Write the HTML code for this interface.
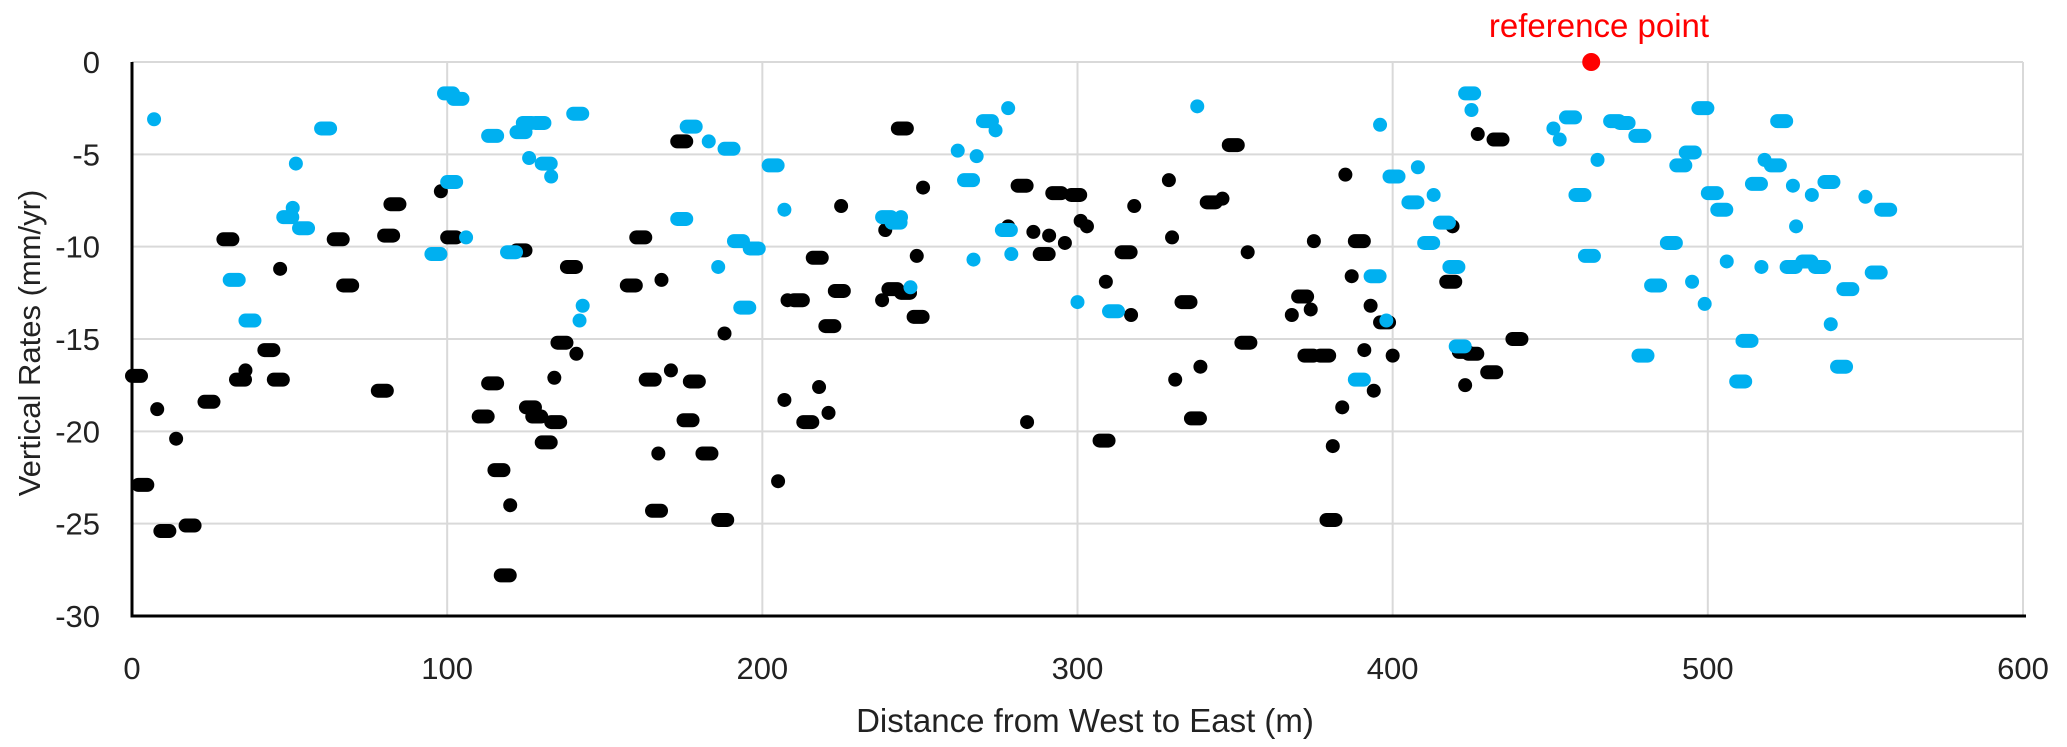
<!DOCTYPE html>
<html><head><meta charset="utf-8"><style>
html,body{margin:0;padding:0;background:#fff;}
svg text{font-family:"Liberation Sans",sans-serif;}
</style></head><body>
<svg id="chart" width="2067" height="742" viewBox="0 0 2067 742" xmlns="http://www.w3.org/2000/svg">
<g id="grid"></g>
<g id="marks"></g>
<g id="axes"></g>
<text transform="translate(40,343) rotate(-90)" text-anchor="middle" font-size="31" fill="#222">Vertical Rates (mm/yr)</text>
<text x="1085" y="732" text-anchor="middle" font-size="33" fill="#222">Distance from West to East (m)</text>
<text x="1599" y="37" text-anchor="middle" font-size="33" fill="#ff0000">reference point</text>
</svg>
<script>
const xTicks=[0,100,200,300,400,500,600];
const yTicks=[0,-5,-10,-15,-20,-25,-30];
const blackX=[0,2,8,9,14,17,23,29,33,36,42,45,47,64,67,78,80,82,98,100,110,113,115,117,120,122,125,127,130,133,134,135,138,141,157,160,163,165,167,168,171,173,175,177,181,186,188,205,207,208,210,213,216,218,220,221,223,225,238,239,240,243,244,249,248,251,278,281,284,286,288,291,292,296,298,301,303,307,309,314,317,318,329,330,331,333,336,339,341,346,348,352,354,368,370,372,375,374,377,379,381,384,385,387,388,391,393,394,396,400,417,419,421,423,424,427,430,432,438];
const blackY=[-17,-22.9,-18.8,-25.4,-20.4,-25.1,-18.4,-9.6,-17.2,-16.7,-15.6,-17.2,-11.2,-9.6,-12.1,-17.8,-9.4,-7.7,-7.0,-9.5,-19.2,-17.4,-22.1,-27.8,-24,-10.2,-18.7,-19.2,-20.6,-19.5,-17.1,-15.2,-11.1,-15.8,-12.1,-9.5,-17.2,-24.3,-21.2,-11.8,-16.7,-4.3,-19.4,-17.3,-21.2,-24.8,-14.7,-22.7,-18.3,-12.9,-12.9,-19.5,-10.6,-17.6,-14.3,-19,-12.4,-7.8,-12.9,-9.1,-12.3,-3.6,-12.5,-10.5,-13.8,-6.8,-8.9,-6.7,-19.5,-9.2,-10.4,-9.4,-7.1,-9.8,-7.2,-8.6,-8.9,-20.5,-11.9,-10.3,-13.7,-7.8,-6.4,-9.5,-17.2,-13,-19.3,-16.5,-7.6,-7.4,-4.5,-15.2,-10.3,-13.7,-12.7,-15.9,-9.7,-13.4,-15.9,-24.8,-20.8,-18.7,-6.1,-11.6,-9.7,-15.6,-13.2,-17.8,-14.1,-15.9,-11.9,-8.9,-15.7,-17.5,-15.8,-3.9,-16.8,-4.2,-15];
const blackD=[1,1,0,1,0,1,1,1,1,0,1,1,0,1,1,1,1,1,0,1,1,1,1,1,0,1,1,1,1,1,0,1,1,0,1,1,1,1,0,0,0,1,1,1,1,1,0,0,0,0,1,1,1,0,1,0,1,0,0,0,1,1,1,0,1,0,0,1,0,0,1,0,1,0,1,0,0,1,0,1,0,0,0,0,0,1,1,0,1,0,1,1,0,0,1,1,0,0,1,1,0,0,0,0,1,0,0,0,1,0,1,0,1,0,1,0,1,1,1];
const blueX=[7,31,36,48,51,52,53,60,95,99,100,102,106,113,119,122,124,126,128,130,133,140,142,143,173,176,183,186,188,191,193,196,202,207,238,241,244,247,262,264,267,268,270,274,276,278,279,300,310,338,388,393,396,398,399,405,408,410,413,415,418,420,423,425,451,453,455,458,461,465,469,472,477,478,482,487,490,493,495,497,499,500,503,506,509,511,514,517,518,520,522,525,527,528,530,533,534,537,539,541,543,550,552,555];
const blueY=[-3.1,-11.8,-14,-8.4,-7.9,-5.5,-9,-3.6,-10.4,-1.7,-6.5,-2,-9.5,-4,-10.3,-3.8,-3.3,-5.2,-3.3,-5.5,-6.2,-2.8,-14,-13.2,-8.5,-3.5,-4.3,-11.1,-4.7,-9.7,-13.3,-10.1,-5.6,-8,-8.4,-8.7,-8.4,-12.2,-4.8,-6.4,-10.7,-5.1,-3.2,-3.7,-9.1,-2.5,-10.4,-13,-13.5,-2.4,-17.2,-11.6,-3.4,-14,-6.2,-7.6,-5.7,-9.8,-7.2,-8.7,-11.1,-15.4,-1.7,-2.6,-3.6,-4.2,-3,-7.2,-10.5,-5.3,-3.2,-3.3,-4,-15.9,-12.1,-9.8,-5.6,-4.9,-11.9,-2.5,-13.1,-7.1,-8,-10.8,-17.3,-15.1,-6.6,-11.1,-5.3,-5.6,-3.2,-11.1,-6.7,-8.9,-10.8,-7.2,-11.1,-6.5,-14.2,-16.5,-12.3,-7.3,-11.4,-8];
const blueD=[0,1,1,1,0,0,1,1,1,1,1,1,0,1,1,1,1,0,1,1,0,1,0,0,1,1,0,0,1,1,1,1,1,0,1,1,0,0,0,1,0,0,1,0,1,0,0,0,1,0,1,1,0,0,1,1,0,1,0,1,1,1,1,0,0,0,1,1,1,0,1,1,1,1,1,1,1,1,0,1,0,1,1,0,1,1,1,0,0,1,1,1,0,0,1,0,1,1,0,1,1,0,1,1];
const refX=[463], refY=[0];

const X0=132,X1=2023,Y0=62,Y1=616;
const sx=v=>X0+(v-0)/600*(X1-X0);
const sy=v=>Y0+(0-v)/30*(Y1-Y0);
const NS="http://www.w3.org/2000/svg";
function mk(tag,attrs,parent){const e=document.createElementNS(NS,tag);for(const k in attrs)e.setAttribute(k,attrs[k]);parent.appendChild(e);return e;}
const grid=document.getElementById('grid'),marks=document.getElementById('marks'),axes=document.getElementById('axes');
xTicks.forEach(t=>{
  if(t>0){const l=mk('line',{x1:sx(t),x2:sx(t),y1:Y0,y2:Y1,stroke:'#d9d9d9','stroke-width':2},grid);
  
  }
  const tx=mk('text',{x:sx(t),y:679,'text-anchor':'middle','font-size':31,fill:'#222'},axes);
  tx.textContent=t;
  
  
});
yTicks.forEach(t=>{
  if(t>-30){const l=mk('line',{x1:X0,x2:X1,y1:sy(t),y2:sy(t),stroke:'#d9d9d9','stroke-width':2},grid);
  
  }
  const tx=mk('text',{x:100,y:sy(t)+11,'text-anchor':'end','font-size':31,fill:'#222'},axes);
  tx.textContent=t;
  
  
});
const ya=mk('line',{x1:X0,x2:X0,y1:Y0,y2:Y1+1.5,stroke:'#000','stroke-width':3},axes);


const xa=mk('line',{x1:X0-1.5,x2:X1+3,y1:Y1,y2:Y1,stroke:'#000','stroke-width':3},axes);


function drawSeries(xs,ys,ds,color,name){
  xs.forEach((x,i)=>{
    const w=ds[i]?9:0;
    const r=mk('rect',{x:sx(x)-7,y:sy(ys[i])-7,width:14+w,height:14,rx:7,ry:7,fill:color},marks);
    
    
  });
}
drawSeries(blackX,blackY,blackD,'#000000','black-point');
drawSeries(blueX,blueY,blueD,'#00b0f0','blue-point');
refX.forEach((x,i)=>{
  const c=mk('circle',{cx:sx(x),cy:sy(refY[i]),r:9,fill:'#ff0000'},marks);
  
  
});
</script>
</body></html>
